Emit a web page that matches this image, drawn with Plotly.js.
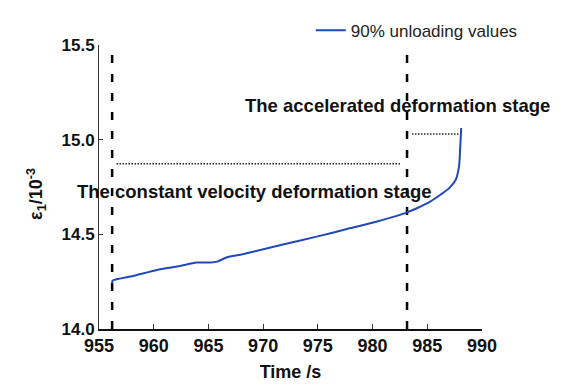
<!DOCTYPE html>
<html>
<head>
<meta charset="utf-8">
<script src="https://cdn.plot.ly/plotly-3.0.1.min.js"></script>
<style>
  html, body { margin: 0; padding: 0; background: #ffffff; }
  #chart { width: 563px; height: 385px; }
</style>
</head>
<body>
<div id="chart"></div>
<script>
// Axial strain under 90% unloading, sampled over time
const timeS = [956.2, 956.25, 958.1, 960.3, 962.4, 963.9, 965.2, 965.8, 966.7, 967.9, 968.8,
               971.9, 974.9, 978.0, 980.4, 982.5, 983.1, 984.1, 985.3, 986.2, 987.0,
               987.6, 987.9, 988.0, 988.1];
const strain = [14.24, 14.256, 14.28, 14.312, 14.333, 14.351, 14.351, 14.356, 14.379, 14.392, 14.404,
                14.448, 14.488, 14.533, 14.568, 14.603, 14.615, 14.639, 14.674, 14.709, 14.744,
                14.788, 14.859, 14.947, 15.062];

// Stage boundaries (vertical dashed lines) and stage level markers (dotted lines)
const stageBounds = [956.2, 983.15];
const constLevelX = [956.6, 982.6];
const constLevelY = [14.873, 14.873];
const accelLevelX = [983.6, 987.9];
const accelLevelY = [15.03, 15.03];

const stageLabels = ['The constant velocity deformation stage', 'The accelerated deformation stage'];
const stageLabelX = [969.2, 982.3];
const stageLabelY = [14.725, 15.18];

const xTicks = [955, 960, 965, 970, 975, 980, 985, 990];
const yTicks = [14.0, 14.5, 15.0, 15.5];

const blue = '#2148b8';
const fontFam = '"Liberation Sans", Arial, sans-serif';

const traces = [];
stageBounds.forEach(function (b) {
  traces.push({
    x: [b, b], y: [14.0, 15.48], mode: 'lines', showlegend: false, hoverinfo: 'skip',
    line: { color: '#000000', width: 2.5, dash: '8px,11px' }
  });
});
traces.push({
  x: constLevelX, y: constLevelY, mode: 'lines', showlegend: false, hoverinfo: 'skip',
  line: { color: '#222222', width: 1.5, dash: '1.5px,1.5px' }
});
traces.push({
  x: accelLevelX, y: accelLevelY, mode: 'lines', showlegend: false, hoverinfo: 'skip',
  line: { color: '#222222', width: 1.5, dash: '1.5px,1.5px' }
});
traces.push({
  x: timeS, y: strain, mode: 'lines', name: '90% unloading values',
  line: { color: blue, width: 2, shape: 'spline', smoothing: 0.6 }
});

const annotations = stageLabels.map(function (t, i) {
  return {
    x: stageLabelX[i], y: stageLabelY[i], xref: 'x', yref: 'y',
    text: '<b>' + t + '</b>', showarrow: false,
    font: { family: fontFam, size: 18.5, color: '#111111' },
    xanchor: 'center', yanchor: 'middle'
  };
});
annotations.push({
  x: -0.165, y: 0.475, xref: 'paper', yref: 'paper',
  text: '<b>ε<sub>1</sub>/10<sup>-3</sup></b>', showarrow: false, textangle: -90,
  font: { family: fontFam, size: 18, color: '#111111' },
  xanchor: 'center', yanchor: 'middle'
});

const layout = {
  width: 563, height: 385,
  margin: { l: 99, r: 81.3, t: 45, b: 56, autoexpand: false },
  paper_bgcolor: '#ffffff', plot_bgcolor: '#ffffff',
  showlegend: true,
  legend: {
    xref: 'container', yref: 'container', x: 0.552, y: 0.967,
    xanchor: 'left', yanchor: 'top', bgcolor: 'rgba(0,0,0,0)',
    font: { family: fontFam, size: 17, color: '#222222' }
  },
  xaxis: {
    range: [955, 990], tickvals: xTicks, ticktext: xTicks.map(String), tickangle: 0,
    automargin: false,
    showgrid: false, zeroline: false, showline: true, linecolor: '#111111', linewidth: 1.5,
    ticks: 'inside', ticklen: 5, tickcolor: '#333333', tickwidth: 1,
    tickfont: { family: fontFam, size: 18, color: '#111111', weight: 'bold' },
    title: { text: '<b>Time /s</b>', standoff: 10, font: { family: fontFam, size: 18, color: '#111111' } }
  },
  yaxis: {
    range: [14.0, 15.5], tickvals: yTicks, ticktext: yTicks.map(function (v) { return v.toFixed(1); }),
    automargin: false,
    showgrid: false, zeroline: false, showline: true, linecolor: '#333333', linewidth: 1,
    ticks: 'inside', ticklen: 4, tickcolor: '#333333', tickwidth: 1,
    tickfont: { family: fontFam, size: 17, color: '#111111', weight: 'bold' }
  },
  annotations: annotations
};

Plotly.newPlot('chart', traces, layout, { displayModeBar: false, staticPlot: true });
</script>
</body>
</html>
